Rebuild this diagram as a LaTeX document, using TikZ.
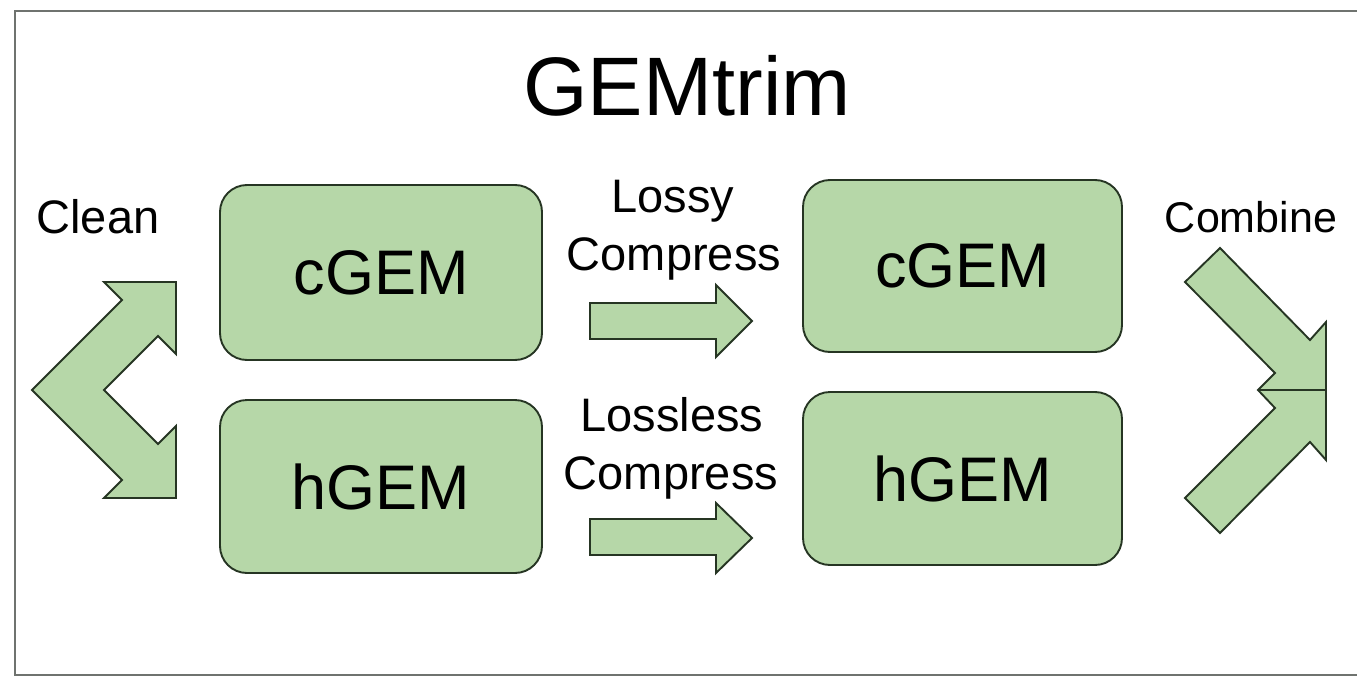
\documentclass[tikz,border=0pt]{standalone}
\usepackage{fontspec}
\setmainfont{Liberation Sans}
\definecolor{gfill}{HTML}{B6D7A8}
\definecolor{gline}{HTML}{263523}
\definecolor{frame}{HTML}{6F736F}
\begin{document}
\begin{tikzpicture}[x=1pt,y=-1pt,
  gembox/.style={draw=gline,fill=gfill,line width=1.9pt,rounded corners=27pt,inner sep=0pt,
     font=\fontsize{63}{63}\selectfont},
  blockarrow/.style={draw=gline,fill=gfill,line width=1.9pt,line join=miter},
  lbl/.style={inner sep=0pt,anchor=base,font=\fontsize{47}{47}\selectfont}]
\useasboundingbox (0,0) rectangle (1357,677);
\begin{scope}
\clip (0,0) rectangle (1357,677);
\draw[frame,line width=2.4pt] (15,11) rectangle (1380,675);
\end{scope}
% title
\node[inner sep=0pt,anchor=base,font=\fontsize{83}{83}\selectfont] (title) at (687,115) {GEMtrim};
% boxes
\node[gembox,minimum width=322pt,minimum height=175pt] (c1) at (381,272.5) {cGEM};
\node[gembox,minimum width=322pt,minimum height=173pt] (h1) at (381,486.5) {hGEM};
\node[gembox,minimum width=319pt,minimum height=172pt] (c2) at (962.5,266) {cGEM};
\node[gembox,minimum width=319pt,minimum height=173pt] (h2) at (962.5,478.5) {hGEM};
% labels
\node[lbl] (clean) at (98,233) {Clean};
\node[lbl] (lossy) at (673,212) {Lossy};
\node[lbl] (comp1) at (674,270) {Compress};
\node[lbl] (lossless) at (672,431) {Lossless};
\node[lbl] (comp2) at (671,489) {Compress};
\node[lbl,font=\fontsize{43}{43}\selectfont] (combine) at (1251,232) {Combine};
% clean split arrow
\draw[blockarrow] (104,282) -- (176,282) -- (176,354) -- (158,336) -- (104,390) -- (158,444)
  -- (176,426) -- (176,498) -- (104,498) -- (122,480) -- (32,390) -- (122,300) -- cycle;
% compress arrows
\draw[blockarrow] (590,303) -- (716,303) -- (716,285) -- (752,321) -- (716,357) -- (716,339) -- (590,339) -- cycle;
\draw[blockarrow] (590,519) -- (716,519) -- (716,503) -- (752,538) -- (716,573) -- (716,555) -- (590,555) -- cycle;
% combine arrow
\draw[blockarrow] (1220,248) -- (1310,340) -- (1326,322) -- (1326,460) -- (1310,442) -- (1220,533)
  -- (1185,498) -- (1275,408) -- (1258,390) -- (1275,373) -- (1185,282) -- cycle;
\draw[gline,line width=2.8pt] (1258,390) -- (1326,390);
\end{tikzpicture}
\end{document}
